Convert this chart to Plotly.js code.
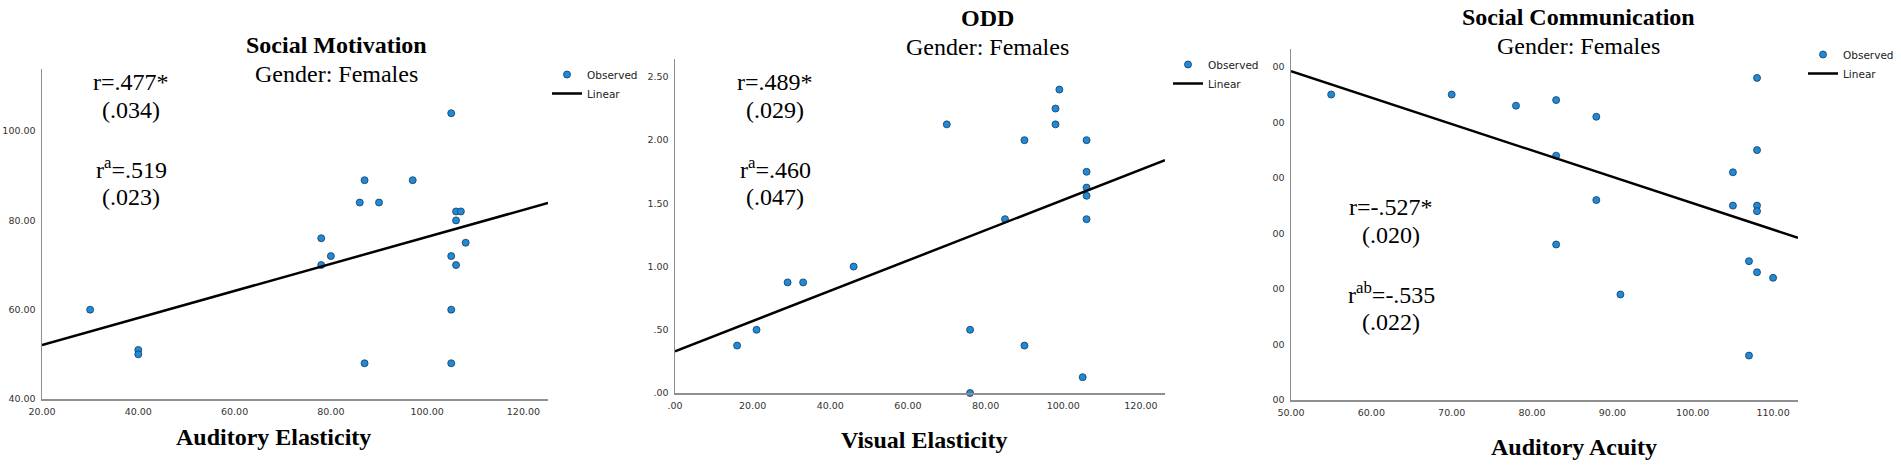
<!DOCTYPE html>
<html>
<head>
<meta charset="utf-8">
<script src="https://cdn.plot.ly/plotly-3.0.1.min.js"></script>
<style>
  html, body { margin: 0; padding: 0; background: #fff; }
  #chart { width: 1901px; height: 466px; }
</style>
</head>
<body>
<div id="chart"></div>
<script>
const W = 1901;
const H = 466;

// Social Motivation vs Auditory Elasticity
const smX = [30, 40, 40, 78, 78, 80, 86, 87, 87, 90, 97, 105, 105, 105, 105, 106, 107, 106, 106, 108];
const smY = [60, 51, 50, 76, 70, 72, 84, 89, 48, 84, 89, 104, 72, 60, 48, 82, 82, 80, 70, 75];
const smFitX = [20, 125.1];
const smFitY = [52.1, 83.9];
const smXTicks = [20, 40, 60, 80, 100, 120];
const smXLabels = ['20.00', '40.00', '60.00', '80.00', '100.00', '120.00'];
const smYTicks = [40, 60, 80, 100];
const smYLabels = ['40.00', '60.00', '80.00', '100.00'];

// ODD vs Visual Elasticity
const oddX = [16, 21, 29, 33, 46, 70, 76, 76, 85, 90, 90, 98, 98, 99, 105, 106, 106, 106, 106, 106];
const oddY = [0.375, 0.5, 0.875, 0.875, 1.0, 2.125, 0.5, 0.0, 1.375, 2.0, 0.375, 2.25, 2.125, 2.4, 0.125, 2.0, 1.75, 1.625, 1.56, 1.375];
const oddFitX = [0, 126.2];
const oddFitY = [0.329, 1.842];
const oddXTicks = [0, 20, 40, 60, 80, 100, 120];
const oddXLabels = ['.00', '20.00', '40.00', '60.00', '80.00', '100.00', '120.00'];
const oddYTicks = [0, 0.5, 1, 1.5, 2, 2.5];
const oddYLabels = ['.00', '.50', '1.00', '1.50', '2.00', '2.50'];

// Social Communication vs Auditory Acuity (y labels are cut off in the source)
const scX = [55, 70, 78, 83, 88, 83, 108, 108, 105, 88, 105, 108, 108, 83, 107, 108, 110, 91, 107];
const scY = [65, 65, 63, 64, 61, 54, 68, 55, 51, 46, 45, 45, 44, 38, 35, 33, 32, 29, 18];
const scFitX = [50, 113.1];
const scFitY = [69.2, 39.2];
const scXTicks = [50, 60, 70, 80, 90, 100, 110];
const scXLabels = ['50.00', '60.00', '70.00', '80.00', '90.00', '100.00', '110.00'];
const scYTicks = [10, 20, 30, 40, 50, 60, 70];
const scYLabels = ['00', '00', '00', '00', '00', '00', '00'];

const DOT = '#1f8ad8';
const SERIF = 'Liberation Serif, Times New Roman, serif';
const SANS = 'DejaVu Sans, sans-serif';

const px = x => x / W;
const py = y => 1 - y / H;

function axis(lo, hi, range, tickvals, ticktext, anchor) {
  return {
    domain: [lo, hi],
    range,
    anchor,
    tickmode: 'array',
    tickvals,
    ticktext,
    showgrid: false,
    zeroline: false,
    showline: true,
    linecolor: '#8f8f8f',
    linewidth: 1.5,
    ticks: '',
    ticklabelstandoff: 3,
    tickfont: { family: SANS, size: 9.5, color: '#333' },
    fixedrange: true,
  };
}

function scatterTraces(x, y, fx, fy, n) {
  const sfx = n === 1 ? '' : String(n);
  const legend = n === 1 ? 'legend' : 'legend' + n;
  return [
    {
      x, y,
      type: 'scatter', mode: 'markers', name: 'Observed',
      xaxis: 'x' + sfx, yaxis: 'y' + sfx, legend,
      marker: { color: DOT, size: 7, line: { color: '#163a5c', width: 0.8 } },
      cliponaxis: false,
    },
    {
      x: fx, y: fy,
      type: 'scatter', mode: 'lines', name: 'Linear',
      xaxis: 'x' + sfx, yaxis: 'y' + sfx, legend,
      line: { color: '#000', width: 2.5 },
    },
  ];
}

function legendAt(left, top) {
  return {
    x: px(left), y: py(top), xanchor: 'left', yanchor: 'top',
    xref: 'paper', yref: 'paper',
    bgcolor: 'rgba(0,0,0,0)', borderwidth: 0,
    itemwidth: 30,
    font: { family: SANS, size: 10.5, color: '#222' },
  };
}

function label(text, x, y, size, bold) {
  return {
    text: bold ? '<b>' + text + '</b>' : text,
    x: px(x), y: py(y), xref: 'paper', yref: 'paper',
    xanchor: 'center', yanchor: 'middle',
    showarrow: false,
    font: { family: SERIF, size, color: '#000' },
  };
}

const traces = [
  ...scatterTraces(smX, smY, smFitX, smFitY, 1),
  ...scatterTraces(oddX, oddY, oddFitX, oddFitY, 2),
  ...scatterTraces(scX, scY, scFitX, scFitY, 3),
];

const layout = {
  width: W,
  height: H,
  margin: { l: 0, r: 0, t: 0, b: 0 },
  paper_bgcolor: '#fff',
  plot_bgcolor: '#fff',
  showlegend: true,

  xaxis: axis(px(42), px(548), [20, 125.1], smXTicks, smXLabels, 'y'),
  yaxis: axis(py(399), py(69), [40, 113.9], smYTicks, smYLabels, 'x'),
  xaxis2: axis(px(675), px(1165), [0, 126.2], oddXTicks, oddXLabels, 'y2'),
  yaxis2: axis(py(393), py(59), [0, 2.642], oddYTicks, oddYLabels, 'x2'),
  xaxis3: axis(px(1291), px(1798), [50, 113.1], scXTicks, scXLabels, 'y3'),
  yaxis3: axis(py(400), py(49), [10, 73.2], scYTicks, scYLabels, 'x3'),

  legend: legendAt(547, 60),
  legend2: legendAt(1168, 50),
  legend3: legendAt(1803, 40),

  annotations: [
    label('Social Motivation', 336, 45, 24, true),
    label('Gender: Females', 336, 74, 24),
    label('r=.477*', 131, 82, 24),
    label('(.034)', 131, 110, 24),
    label('r<sup>a</sup>=.519', 131, 168, 24),
    label('(.023)', 131, 197, 24),
    label('Auditory Elasticity', 273, 437, 24, true),

    label('ODD', 987, 18, 24, true),
    label('Gender: Females', 987, 47, 24),
    label('r=.489*', 775, 82, 24),
    label('(.029)', 775, 110, 24),
    label('r<sup>a</sup>=.460', 775, 168, 24),
    label('(.047)', 775, 197, 24),
    label('Visual Elasticity', 924, 440, 24, true),

    label('Social Communication', 1578, 17, 24, true),
    label('Gender: Females', 1578, 46, 24),
    label('r=-.527*', 1391, 207, 24),
    label('(.020)', 1391, 235, 24),
    label('r<sup>ab</sup>=-.535', 1391, 293, 24),
    label('(.022)', 1391, 322, 24),
    label('Auditory Acuity', 1574, 447, 24, true),
  ],
};

Plotly.newPlot('chart', traces, layout, { displayModeBar: false, staticPlot: true });
</script>
</body>
</html>
